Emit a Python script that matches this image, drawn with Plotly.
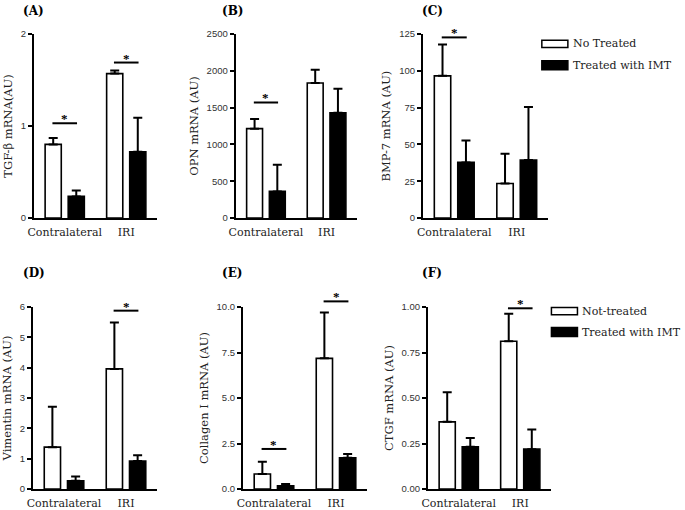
import plotly.graph_objects as go

categories = ["Contralateral", "IRI"]
legend_top = ["No Treated", "Treated with IMT"]
legend_bottom = ["Not-treated", "Treated with IMT"]

panel_labels = ["(A)", "(B)", "(C)", "(D)", "(E)", "(F)"]
y_titles = ["TGF-β mRNA(AU)", "OPN mRNA (AU)", "BMP-7 mRNA (AU)",
            "Vimentin mRNA (AU)", "Collagen I mRNA (AU)", "CTGF mRNA (AU)"]

untreated_mean = [[0.80, 1.57], [1214, 1834], [96.6, 23.5], [1.38, 3.96], [0.82, 7.18], [0.369, 0.812]]
untreated_err = [[0.07, 0.033], [131, 181], [21.2, 20.2], [1.33, 1.53], [0.68, 2.52], [0.163, 0.151]]
treated_mean = [[0.235, 0.72], [362, 1431], [37.8, 39.4], [0.27, 0.92], [0.18, 1.72], [0.232, 0.219]]
treated_err = [[0.065, 0.37], [363, 326], [14.8, 36.0], [0.14, 0.19], [0.09, 0.20], [0.048, 0.108]]

y_max = [2, 2500, 125, 6, 10, 1.0]
y_dtick = [1, 500, 25, 1, 2.5, 0.25]
y_tickformat = ["", "", "", "", ".1f", ".2f"]

# significance bars: panel index, category index, level (data units)
sig_panel = [0, 0, 1, 2, 3, 4, 4, 5]
sig_group = [0, 1, 0, 0, 1, 0, 1, 1]
sig_level = [1.03, 1.69, 1571, 122.7, 5.88, 2.20, 10.31, 0.993]

# layout geometry (paper fractions)
x_domains = [[0.0496, 0.2292], [0.344, 0.521], [0.6175, 0.800],
             [0.0482, 0.2292], [0.3547, 0.5358], [0.6248, 0.8044]]
y_domains = [[0.5725, 0.9333]] * 3 + [[0.0412, 0.398]] * 3

SERIF = "DejaVu Serif"
SANS = "Liberation Sans"

fig = go.Figure()
layout = dict(
    width=685, height=510,
    margin=dict(l=0, r=0, t=0, b=0),
    paper_bgcolor="white", plot_bgcolor="white",
    showlegend=False,
    barmode="group", bargap=0.25, bargroupgap=0.3,
    shapes=[], annotations=[],
)

for i in range(6):
    n = "" if i == 0 else str(i + 1)
    xa, ya = "x" + n, "y" + n
    fig.add_trace(go.Bar(
        x=categories, y=untreated_mean[i], xaxis=xa, yaxis=ya,
        marker=dict(color="white", line=dict(color="black", width=1.6)),
        error_y=dict(type="data", array=untreated_err[i], arrayminus=[0, 0], symmetric=False,
                     color="black", thickness=2, width=4.5),
        name=legend_top[0] if i < 3 else legend_bottom[0],
    ))
    fig.add_trace(go.Bar(
        x=categories, y=treated_mean[i], xaxis=xa, yaxis=ya,
        marker=dict(color="black", line=dict(color="black", width=1.6)),
        error_y=dict(type="data", array=treated_err[i], arrayminus=[0, 0], symmetric=False,
                     color="black", thickness=2, width=4.5),
        name=legend_top[1] if i < 3 else legend_bottom[1],
    ))
    layout["xaxis" + n] = dict(
        domain=x_domains[i], anchor=ya, showline=True, linecolor="black", linewidth=2,
        ticks="", showgrid=False, zeroline=False, range=[-0.5, 1.5], automargin=False,
        ticklabelstandoff=3,
        tickfont=dict(family=SERIF, size=11, color="#222"),
    )
    layout["yaxis" + n] = dict(
        domain=y_domains[i], anchor=xa, showline=True, linecolor="black", linewidth=2,
        ticks="outside", ticklen=4, tickwidth=2, tickcolor="black",
        showgrid=False, zeroline=False, range=[0, y_max[i]], automargin=False,
        tick0=0, dtick=y_dtick[i], tickformat=y_tickformat[i],
        tickfont=dict(family=SANS, size=9.5, color="#333"),
        title=dict(text=y_titles[i], font=dict(family=SERIF, size=11.5, color="#222"), standoff=6),
    )
    # panel label
    layout["annotations"].append(dict(
        text="<b>" + panel_labels[i] + "</b>", xref="paper", yref="paper",
        x=[0.030, 0.321, 0.613][i % 3], y=[0.978, 0.465][i // 3],
        xanchor="left", yanchor="middle", showarrow=False,
        font=dict(family=SERIF, size=12, color="black"),
    ))

for p, g, lev in zip(sig_panel, sig_group, sig_level):
    n = "" if p == 0 else str(p + 1)
    layout["shapes"].append(dict(
        type="line", xref="x" + n, yref="y" + n + " domain",
        x0=g - 0.2, x1=g + 0.2, y0=lev / y_max[p], y1=lev / y_max[p],
        line=dict(color="black", width=2),
    ))
    layout["annotations"].append(dict(
        text="<b>*</b>", xref="x" + n, yref="y" + n + " domain", x=g, y=lev / y_max[p],
        xanchor="center", yanchor="bottom", showarrow=False, yshift=-5,
        font=dict(family="Liberation Serif", size=13, color="black"),
    ))

# legends (drawn as swatches + text)
for names, ys, x0 in [(legend_top, [0.914, 0.872], 0.791), (legend_bottom, [0.390, 0.349], 0.805)]:
    for k, (nm, yy) in enumerate(zip(names, ys)):
        layout["shapes"].append(dict(
            type="rect", xref="paper", yref="paper",
            x0=x0, x1=x0 + 0.038, y0=yy - (0.007 if k == 0 else 0.009), y1=yy + (0.007 if k == 0 else 0.009),
            line=dict(color="black", width=1.5), fillcolor="white" if k == 0 else "black",
        ))
        layout["annotations"].append(dict(
            text=nm, xref="paper", yref="paper", x=x0 + 0.042, y=yy,
            xanchor="left", yanchor="middle", showarrow=False,
            font=dict(family=SERIF, size=11, color="#222"),
        ))

fig.update_layout(**layout)
fig.write_html("out.html", config={"displayModeBar": False},
               post_script="document.body.style.margin='0px';")
